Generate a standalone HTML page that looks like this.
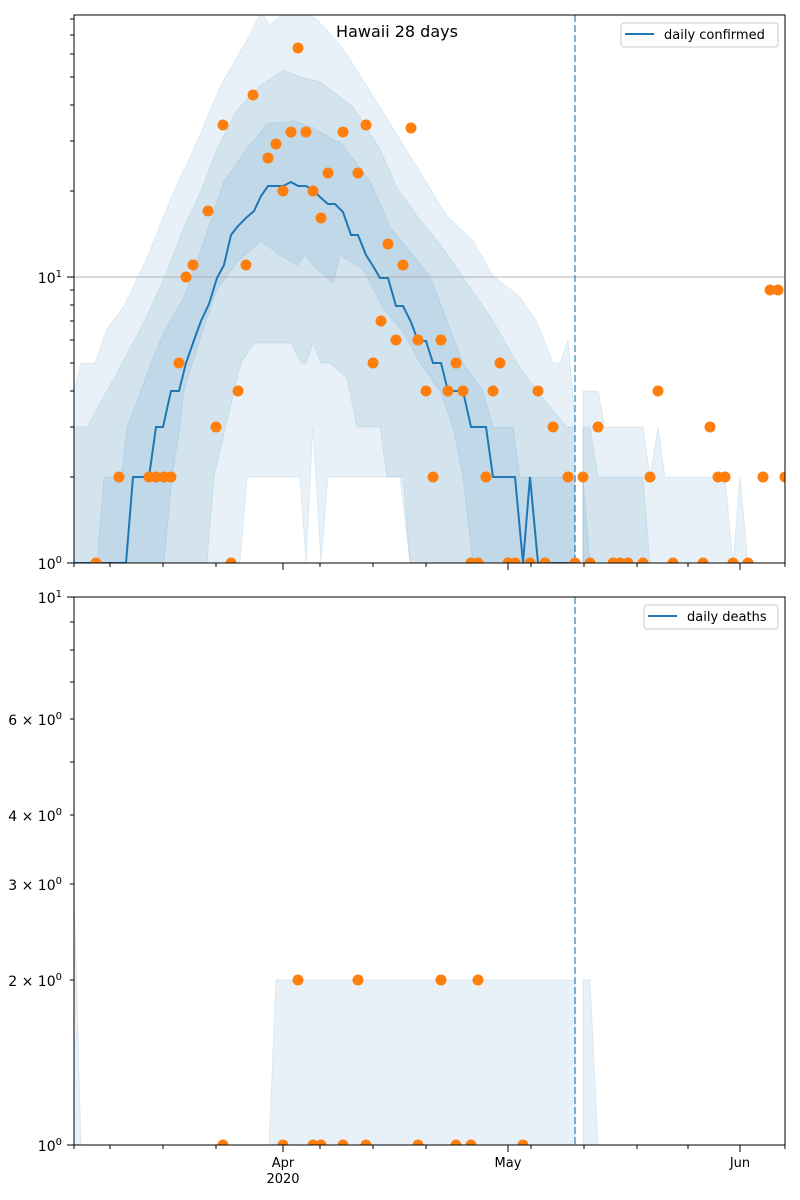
<!DOCTYPE html>
<html><head><meta charset="utf-8"><style>
html,body{margin:0;padding:0;background:#fff;}
svg{display:block;font-family:"DejaVu Sans","Liberation Sans",sans-serif;}
</style></head><body>
<svg width="800" height="1200" viewBox="0 0 800 1200" xmlns="http://www.w3.org/2000/svg">
<defs>
<clipPath id="c1"><rect x="74" y="15" width="711" height="548"/></clipPath>
<clipPath id="c2"><rect x="74" y="597" width="711" height="548"/></clipPath>
</defs>
<rect width="800" height="1200" fill="#fff"/>

<!-- TOP CHART -->
<g clip-path="url(#c1)">
<g fill="rgba(31,119,180,0.1)" stroke="rgba(31,119,180,0.1)" stroke-width="1">
<!-- Band A -->
<polygon points="74,391 81,363 95,363 107,329 124,306 147,258 174,191 194,149 221,85 247,40 261,12 270,25 285,12 300,12 315,18 323,26 340,45 353,64 380,107 410,156 447,216 473,241 493,276 520,297 537,322 553,363 560,363 568,340 575,420 575,563 410,563 400,477 328,477 321,563 313,427 306,563 300,477 247,477 240,563 74,563"/>
<polygon points="583,391 598,391 605,427 643,427 650,477 658,427 665,477 725,477 733,563 740,477 748,563 583,563"/>
<!-- Band B -->
<polygon points="74,427 87,427 107,391 124,360 144,322 164,279 184,227 201,191 217,149 237,110 261,85 284,70 301,77 320,82 353,107 380,149 397,188 420,220 440,244 467,283 493,321 517,363 537,391 567,427 573,427 575,563 410,563 403,477 387,477 380,427 357,427 347,378 330,363 321,363 313,343 306,363 301,363 291,343 267,343 254,343 241,363 234,391 214,477 207,563 74,563"/>
<polygon points="583,427 590,427 598,477 643,477 650,563 583,563"/>
<!-- Band C -->
<polygon points="97,563 104,477 121,477 127,427 141,391 151,363 164,332 184,297 204,241 224,181 247,149 267,124 294,121 314,128 334,140 340,142 370,181 390,227 407,248 430,276 447,321 463,363 483,391 493,427 513,427 520,477 575,477 575,563 473,563 463,477 453,427 440,391 420,363 403,332 383,308 363,269 340,255 333,283 313,265 305,255 297,265 280,255 261,241 237,262 217,290 201,336 184,391 180,427 172,477 164,563"/>
<polygon points="583,477 590,563 583,563"/>
</g>
<line x1="74" y1="277" x2="785" y2="277" stroke="#b0b0b0" stroke-width="1"/>
<polyline fill="none" stroke="#1f77b4" stroke-width="2" points="74,563 126,563 133,477 149,477 156,427 163,427 171,391 179,391 186,363 193,343 201,321 209,304 217,278 224,265 231,235 238,226 246,218 254,211 261,196 268,186 283,186 291,182 298,186 306,186 313,190 320,197 328,204 335,204 343,212 351,235 358,235 366,255 373,266 380,278 388,278 396,306 403,306 411,322 418,341 426,341 433,363 441,363 448,391 463,391 471,427 486,427 493,477 515,477 523,563 530,477 538,563 575,563"/>
<line x1="575" y1="15" x2="575" y2="563" stroke="rgba(31,119,180,0.55)" stroke-width="2" stroke-dasharray="7,3"/>
<g fill="#ff7f0e">
<circle cx="96" cy="563" r="5.5"/><circle cx="119" cy="477" r="5.5"/><circle cx="149" cy="477" r="5.5"/><circle cx="156" cy="477" r="5.5"/><circle cx="164" cy="477" r="5.5"/><circle cx="171" cy="477" r="5.5"/>
<circle cx="179" cy="363" r="5.5"/><circle cx="186" cy="277" r="5.5"/><circle cx="193" cy="265" r="5.5"/><circle cx="208" cy="211" r="5.5"/><circle cx="216" cy="427" r="5.5"/><circle cx="223" cy="125" r="5.5"/>
<circle cx="231" cy="563" r="5.5"/><circle cx="238" cy="391" r="5.5"/><circle cx="246" cy="265" r="5.5"/><circle cx="253" cy="95" r="5.5"/><circle cx="268" cy="158" r="5.5"/><circle cx="276" cy="144" r="5.5"/>
<circle cx="283" cy="191" r="5.5"/><circle cx="291" cy="132" r="5.5"/><circle cx="298" cy="48" r="5.5"/><circle cx="306" cy="132" r="5.5"/><circle cx="313" cy="191" r="5.5"/><circle cx="321" cy="218" r="5.5"/>
<circle cx="328" cy="173" r="5.5"/><circle cx="343" cy="132" r="5.5"/><circle cx="358" cy="173" r="5.5"/><circle cx="366" cy="125" r="5.5"/><circle cx="373" cy="363" r="5.5"/><circle cx="381" cy="321" r="5.5"/>
<circle cx="388" cy="244" r="5.5"/><circle cx="396" cy="340" r="5.5"/><circle cx="403" cy="265" r="5.5"/><circle cx="411" cy="128" r="5.5"/><circle cx="418" cy="340" r="5.5"/><circle cx="426" cy="391" r="5.5"/>
<circle cx="433" cy="477" r="5.5"/><circle cx="441" cy="340" r="5.5"/><circle cx="448" cy="391" r="5.5"/><circle cx="456" cy="363" r="5.5"/><circle cx="463" cy="391" r="5.5"/><circle cx="471" cy="563" r="5.5"/>
<circle cx="478" cy="563" r="5.5"/><circle cx="486" cy="477" r="5.5"/><circle cx="493" cy="391" r="5.5"/><circle cx="500" cy="363" r="5.5"/><circle cx="508" cy="563" r="5.5"/><circle cx="515" cy="563" r="5.5"/>
<circle cx="530" cy="563" r="5.5"/><circle cx="538" cy="391" r="5.5"/><circle cx="545" cy="563" r="5.5"/><circle cx="553" cy="427" r="5.5"/><circle cx="568" cy="477" r="5.5"/><circle cx="575" cy="563" r="5.5"/>
<circle cx="583" cy="477" r="5.5"/><circle cx="590" cy="563" r="5.5"/><circle cx="598" cy="427" r="5.5"/><circle cx="613" cy="563" r="5.5"/><circle cx="620" cy="563" r="5.5"/><circle cx="628" cy="563" r="5.5"/>
<circle cx="643" cy="563" r="5.5"/><circle cx="650" cy="477" r="5.5"/><circle cx="658" cy="391" r="5.5"/><circle cx="673" cy="563" r="5.5"/><circle cx="703" cy="563" r="5.5"/><circle cx="710" cy="427" r="5.5"/>
<circle cx="718" cy="477" r="5.5"/><circle cx="725" cy="477" r="5.5"/><circle cx="733" cy="563" r="5.5"/><circle cx="748" cy="563" r="5.5"/><circle cx="763" cy="477" r="5.5"/><circle cx="770" cy="290" r="5.5"/>
<circle cx="778" cy="290" r="5.5"/><circle cx="785" cy="477" r="5.5"/>
</g>
</g>
<rect x="74" y="15" width="711" height="548" fill="none" stroke="#000" stroke-width="1"/>
<!-- top y ticks -->
<g stroke="#000" stroke-width="1">
<line x1="67" y1="563" x2="74" y2="563"/><line x1="67" y1="277" x2="74" y2="277"/>
<line x1="70" y1="477" x2="74" y2="477"/><line x1="70" y1="427" x2="74" y2="427"/><line x1="70" y1="391" x2="74" y2="391"/><line x1="70" y1="363" x2="74" y2="363"/><line x1="70" y1="340" x2="74" y2="340"/><line x1="70" y1="321" x2="74" y2="321"/><line x1="70" y1="305" x2="74" y2="305"/><line x1="70" y1="290" x2="74" y2="290"/>
<line x1="70" y1="191" x2="74" y2="191"/><line x1="70" y1="141" x2="74" y2="141"/><line x1="70" y1="105" x2="74" y2="105"/><line x1="70" y1="77" x2="74" y2="77"/><line x1="70" y1="54" x2="74" y2="54"/><line x1="70" y1="35" x2="74" y2="35"/><line x1="70" y1="19" x2="74" y2="19"/>
</g>
<g font-size="14" fill="#000" text-anchor="end">
<text x="62" y="283">10<tspan font-size="10" dy="-6">1</tspan></text>
<text x="62" y="569">10<tspan font-size="10" dy="-6">0</tspan></text>
</g>
<!-- top x ticks -->
<g stroke="#000" stroke-width="1">
<line x1="283" y1="563" x2="283" y2="570"/><line x1="508" y1="563" x2="508" y2="570"/><line x1="740" y1="563" x2="740" y2="570"/>
<line x1="74" y1="563" x2="74" y2="567"/><line x1="110" y1="563" x2="110" y2="567"/><line x1="163" y1="563" x2="163" y2="567"/><line x1="216" y1="563" x2="216" y2="567"/><line x1="320" y1="563" x2="320" y2="567"/><line x1="373" y1="563" x2="373" y2="567"/><line x1="426" y1="563" x2="426" y2="567"/><line x1="531" y1="563" x2="531" y2="567"/><line x1="584" y1="563" x2="584" y2="567"/><line x1="637" y1="563" x2="637" y2="567"/><line x1="688" y1="563" x2="688" y2="567"/><line x1="785" y1="563" x2="785" y2="567"/>
</g>
<text x="397" y="37" font-size="16" text-anchor="middle" fill="#000">Hawaii 28 days</text>
<rect x="621" y="23" width="157" height="24" rx="3" fill="rgba(255,255,255,0.8)" stroke="#ccc"/>
<line x1="625" y1="34" x2="654" y2="34" stroke="#1f77b4" stroke-width="2"/>
<text x="664" y="39" font-size="13" fill="#000">daily confirmed</text>

<!-- BOTTOM CHART -->
<g clip-path="url(#c2)">
<g fill="rgba(31,119,180,0.1)" stroke="rgba(31,119,180,0.1)" stroke-width="1">
<polygon points="74,884 81,1145 74,1145"/>
<polygon points="269,1145 276,980 575,980 575,1145"/>
<polygon points="583,980 590,980 598,1145 583,1145"/>
</g>
<line x1="575" y1="597" x2="575" y2="1145" stroke="rgba(31,119,180,0.55)" stroke-width="2" stroke-dasharray="7,3"/>
<g fill="#ff7f0e">
<circle cx="223" cy="1145" r="5.5"/><circle cx="283" cy="1145" r="5.5"/><circle cx="313" cy="1145" r="5.5"/><circle cx="321" cy="1145" r="5.5"/><circle cx="343" cy="1145" r="5.5"/><circle cx="366" cy="1145" r="5.5"/><circle cx="418" cy="1145" r="5.5"/><circle cx="456" cy="1145" r="5.5"/><circle cx="471" cy="1145" r="5.5"/><circle cx="523" cy="1145" r="5.5"/>
<circle cx="298" cy="980" r="5.5"/><circle cx="358" cy="980" r="5.5"/><circle cx="441" cy="980" r="5.5"/><circle cx="478" cy="980" r="5.5"/>
</g>
</g>
<rect x="74" y="597" width="711" height="548" fill="none" stroke="#000" stroke-width="1"/>
<g stroke="#000" stroke-width="1">
<line x1="67" y1="597" x2="74" y2="597"/><line x1="67" y1="1145" x2="74" y2="1145"/>
<line x1="70" y1="980" x2="74" y2="980"/><line x1="70" y1="884" x2="74" y2="884"/><line x1="70" y1="815" x2="74" y2="815"/><line x1="70" y1="762" x2="74" y2="762"/><line x1="70" y1="719" x2="74" y2="719"/><line x1="70" y1="682" x2="74" y2="682"/><line x1="70" y1="650" x2="74" y2="650"/><line x1="70" y1="622" x2="74" y2="622"/>
</g>
<g font-size="14" fill="#000" text-anchor="end">
<text x="62" y="603">10<tspan font-size="10" dy="-6">1</tspan></text>
<text x="62" y="725">6 × 10<tspan font-size="10" dy="-6">0</tspan></text>
<text x="62" y="821">4 × 10<tspan font-size="10" dy="-6">0</tspan></text>
<text x="62" y="890">3 × 10<tspan font-size="10" dy="-6">0</tspan></text>
<text x="62" y="986">2 × 10<tspan font-size="10" dy="-6">0</tspan></text>
<text x="62" y="1151">10<tspan font-size="10" dy="-6">0</tspan></text>
</g>
<g stroke="#000" stroke-width="1">
<line x1="283" y1="1145" x2="283" y2="1152"/><line x1="508" y1="1145" x2="508" y2="1152"/><line x1="740" y1="1145" x2="740" y2="1152"/>
<line x1="74" y1="1145" x2="74" y2="1149"/><line x1="110" y1="1145" x2="110" y2="1149"/><line x1="163" y1="1145" x2="163" y2="1149"/><line x1="216" y1="1145" x2="216" y2="1149"/><line x1="320" y1="1145" x2="320" y2="1149"/><line x1="373" y1="1145" x2="373" y2="1149"/><line x1="426" y1="1145" x2="426" y2="1149"/><line x1="531" y1="1145" x2="531" y2="1149"/><line x1="584" y1="1145" x2="584" y2="1149"/><line x1="637" y1="1145" x2="637" y2="1149"/><line x1="688" y1="1145" x2="688" y2="1149"/><line x1="785" y1="1145" x2="785" y2="1149"/>
</g>
<g font-size="13" fill="#000" text-anchor="middle">
<text x="283" y="1167">Apr</text>
<text x="283" y="1183">2020</text>
<text x="508" y="1167">May</text>
<text x="740" y="1167">Jun</text>
</g>
<rect x="644" y="605" width="134" height="24" rx="3" fill="rgba(255,255,255,0.8)" stroke="#ccc"/>
<line x1="648" y1="616" x2="677" y2="616" stroke="#1f77b4" stroke-width="2"/>
<text x="687" y="621" font-size="13" fill="#000">daily deaths</text>
</svg>
</body></html>
